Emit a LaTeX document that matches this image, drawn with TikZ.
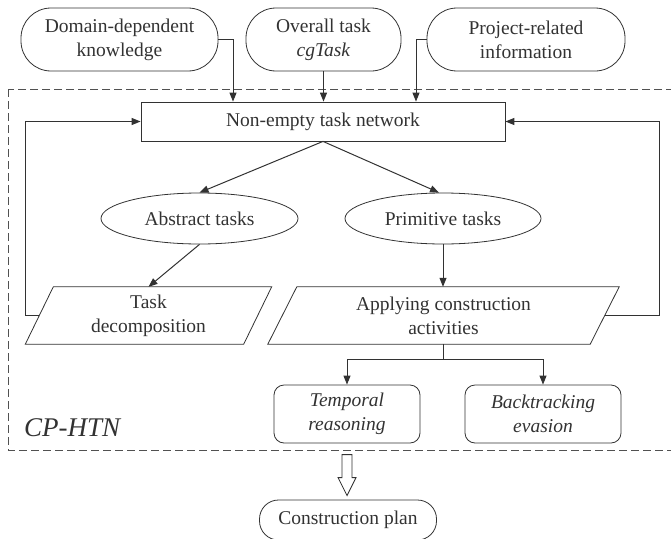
\documentclass[tikz,border=0pt]{standalone}
\usepackage{fontspec}
\setmainfont{Liberation Serif}
\usetikzlibrary{arrows.meta,shapes.geometric,calc}
\definecolor{ink}{RGB}{50,50,50}
\begin{document}
\begin{tikzpicture}[x=1pt,y=-1pt,
  every node/.style={text=ink, font=\fontsize{19.5}{24}\selectfont, align=center, inner sep=0pt},
  pill/.style={draw=ink, line width=0.8pt, rounded corners=30pt, minimum height=63pt},
  rbox/.style={draw=ink, line width=0.8pt, rounded corners=10pt, minimum height=58pt, font=\fontsize{19.5}{24}\selectfont\itshape},
  sqbox/.style={draw=ink, line width=0.8pt, minimum width=364pt, minimum height=39pt},
  oval/.style={draw=ink, line width=0.8pt, ellipse, minimum width=197pt, minimum height=51pt},
  slab/.style={minimum height=57pt},
  slabline/.style={draw=ink, line width=0.8pt},
  conn/.style={draw=ink, line width=1pt},
  arr/.style={conn, -{Triangle[length=9pt,width=7pt]}},
  frame/.style={draw=ink!85, line width=0.8pt, dash pattern=on 8pt off 4pt},
]
\useasboundingbox (0,0) rectangle (671,538);
\draw[frame] (8,89) rectangle (700,450);

% top inputs
\node[pill, minimum width=197pt] (dom) at (119.5,39.5) {Domain-dependent\\knowledge};
\node[pill, minimum width=155pt] (ovr) at (323.5,39.5) {Overall task\\\textit{cgTask}};
\node[pill, minimum width=198pt] (prj) at (526,39.5) {Project-related\\information};

% network
\node[sqbox] (net) at (323,121.5) {Non-empty task network};

% ellipses
\node[oval] (abs) at (199.5,218.5) {Abstract tasks};
\node[oval, minimum width=196pt] (prim) at (443,218.5) {Primitive tasks};

% parallelograms
\node[slab, minimum width=218pt] (tdec) at (148.5,315.5) {Task\\decomposition};
\draw[slabline] ([xshift=14pt]tdec.north west) -- ([xshift=14pt]tdec.north east)
  -- ([xshift=-14pt]tdec.south east) -- ([xshift=-14pt]tdec.south west) -- cycle;
\node[slab, minimum width=322pt] (app) at (443.5,315.5) {Applying construction\\activities};
\draw[slabline] ([xshift=14.5pt]app.north west) -- ([xshift=14.5pt]app.north east)
  -- ([xshift=-14.5pt]app.south east) -- ([xshift=-14.5pt]app.south west) -- cycle;

% rounded boxes
\node[rbox, minimum width=146pt] (temp) at (347,414) {Temporal\\reasoning};
\node[rbox, minimum width=156pt] (back) at (543,414) {Backtracking\\evasion};

% label
\node[anchor=west, font=\fontsize{27}{30}\selectfont\itshape] (cph) at (24,428) {CP-HTN};

% output
\node[pill, rounded corners=19pt, minimum width=177pt, minimum height=40pt] (cp) at (348,520) {Construction plan};

% connectors
\draw[arr] (dom.east) -| ([xshift=-90pt]net.north);
\draw[arr] (ovr.south) -- (ovr.south |- net.north);
\draw[arr] (prj.west) -| ([xshift=93pt]net.north);
\draw[arr] (net.south) -- (abs.north);
\draw[arr] (net.south) -- ([xshift=-4pt]prim.north);
\draw[arr] (abs.south) -- (tdec.north);
\draw[arr] (prim.south) -- (prim.south |- app.north);
\draw[arr] (tdec.west) -- ++(-14,0) |- (net.west);
\draw[arr] (app.east) -- ++(54.5,0) |- (net.east);
\draw[conn] (app.south) -- ++(0,15) coordinate (j);
\draw[arr] (j) -| (temp.north);
\draw[arr] (j) -| (back.north);

% hollow arrow
\draw[ink, line width=0.8pt, fill=white]
  ([xshift=-6pt,yshift=45pt]cp.north) -- ([xshift=-6pt,yshift=22pt]cp.north)
  -- ([xshift=-10pt,yshift=22pt]cp.north) -- ([xshift=-1pt,yshift=4pt]cp.north)
  -- ([xshift=8pt,yshift=22pt]cp.north) -- ([xshift=4pt,yshift=22pt]cp.north)
  -- ([xshift=4pt,yshift=45pt]cp.north) -- cycle;
\end{tikzpicture}
\end{document}
